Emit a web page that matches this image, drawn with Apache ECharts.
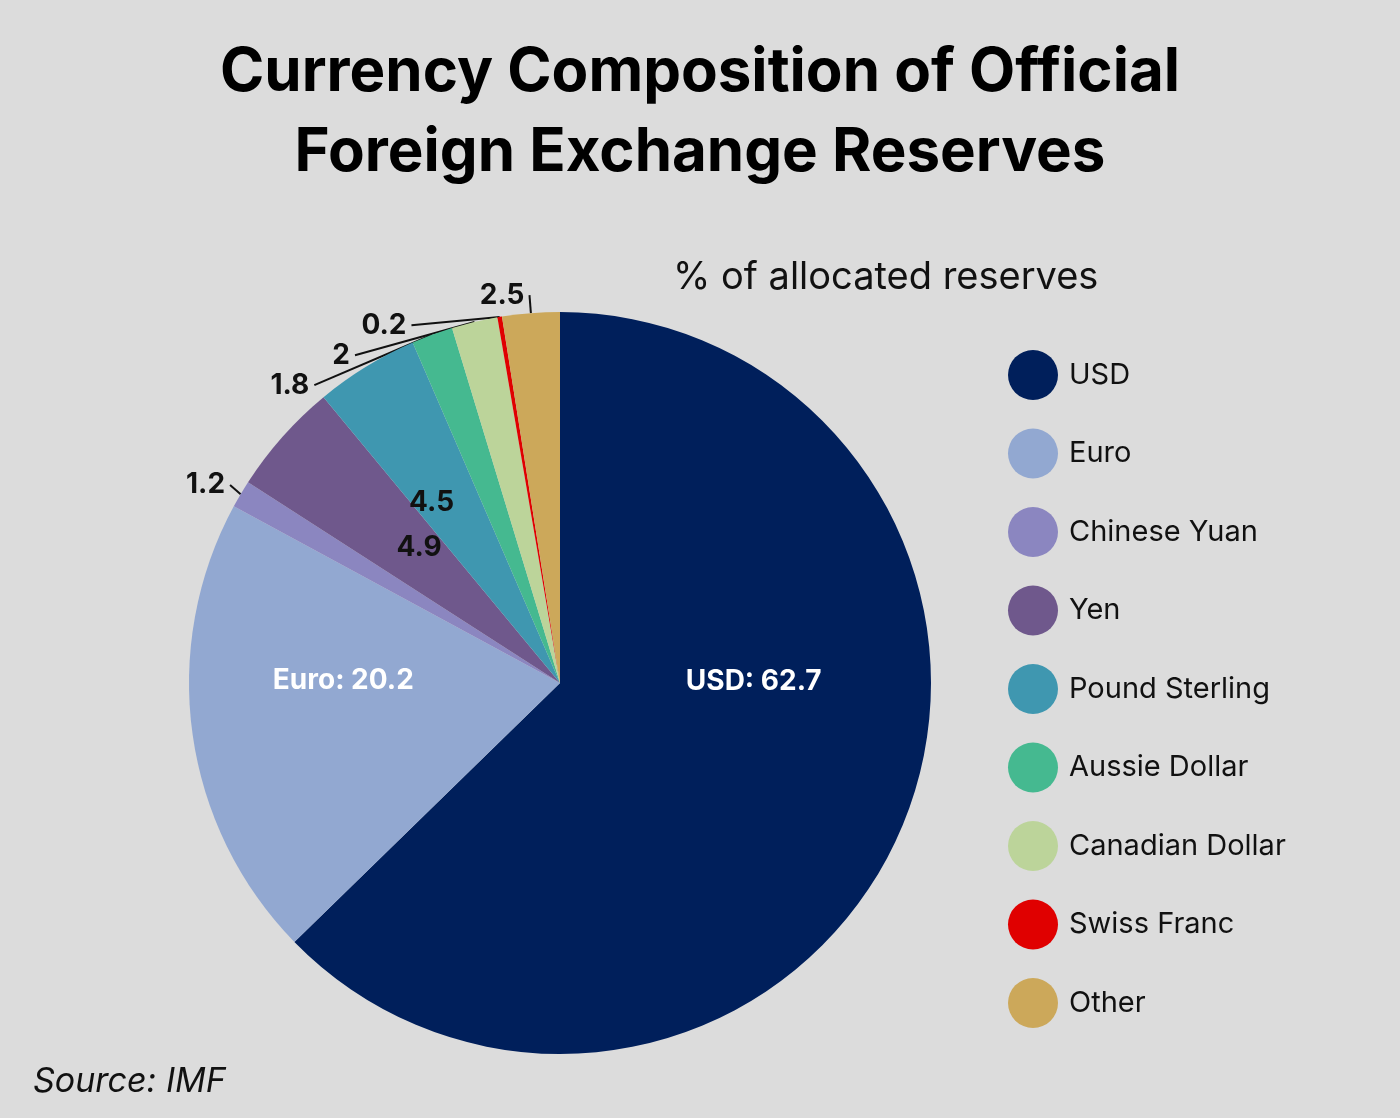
<!DOCTYPE html>
<html><head><meta charset="utf-8">
<script src="https://cdn.jsdelivr.net/npm/echarts@6/dist/echarts.min.js"></script>
<style>html,body{margin:0;background:#dcdcdc}#c{width:1400px;height:1118px}</style>
</head><body><div id="c"></div>
<script>
var names = ['USD', 'Euro', 'Chinese Yuan', 'Yen', 'Pound Sterling', 'Aussie Dollar', 'Canadian Dollar', 'Swiss Franc', 'Other'];
var values = [62.7, 20.2, 1.2, 4.9, 4.5, 1.8, 2.0, 0.2, 2.5];
var colors = ['#001f5b', '#92a8d1', '#8b86c0', '#6f588c', '#3f97b0', '#45b990', '#bcd49a', '#e00000', '#cca85a'];

// label placement per slice: white inside, dark inside, or outside with a line
var inside = { 'USD': [20, -75], 'Euro': [-30, -28] };
var darkInside = { 'Yen': [0, -10], 'Pound Sterling': [-30, -20] };

var data = names.map(function (n, i) {
    var d = { name: n, value: values[i], itemStyle: { color: colors[i] } };
    if (inside[n]) {
        d.label = { position: 'inside', color: '#fff', offset: inside[n], formatter: '{b}: {c}' };
        d.labelLine = { show: false };
    } else if (darkInside[n]) {
        d.label = { position: 'inside', color: '#111', offset: darkInside[n], formatter: '{c}' };
        d.labelLine = { show: false };
    }
    return d;
});

var myChart = echarts.init(document.getElementById('c'));
var option = {
    backgroundColor: '#dcdcdc',
    title: [{
        text: 'Currency Composition of Official\nForeign Exchange Reserves',
        left: 'center', top: 28,
        textStyle: { fontFamily: 'Inter', fontWeight: 'bold', fontSize: 60, lineHeight: 80, color: '#000' }
    }, {
        text: '% of allocated reserves',
        left: 668, top: 254,
        textStyle: { fontFamily: 'Inter', fontWeight: 'normal', fontSize: 38, color: '#111' }
    }, {
        text: 'Source: IMF',
        left: 28, top: 1060,
        textStyle: { fontFamily: 'Inter', fontStyle: 'italic', fontWeight: 'normal', fontSize: 34, color: '#111' }
    }],
    legend: {
        orient: 'vertical', left: 1003, top: 345,
        icon: 'circle', itemWidth: 50, itemHeight: 50, itemGap: 28.5,
        data: names,
        textStyle: { fontFamily: 'Inter', fontSize: 29, color: '#111', padding: [0, 0, 0, 6] }
    },
    series: [{
        type: 'pie',
        center: [560, 683],
        radius: 371,
        startAngle: 90,
        clockwise: true,
        data: data,
        label: {
            position: 'outside', formatter: '{c}',
            fontFamily: 'Inter', fontWeight: 'bold', fontSize: 28, color: '#111'
        },
        labelLine: { length: 18, length2: 0, lineStyle: { color: '#111', width: 2 } },
        emphasis: { disabled: true }
    }]
};
option && myChart.setOption(option);
</script>
</body></html>
